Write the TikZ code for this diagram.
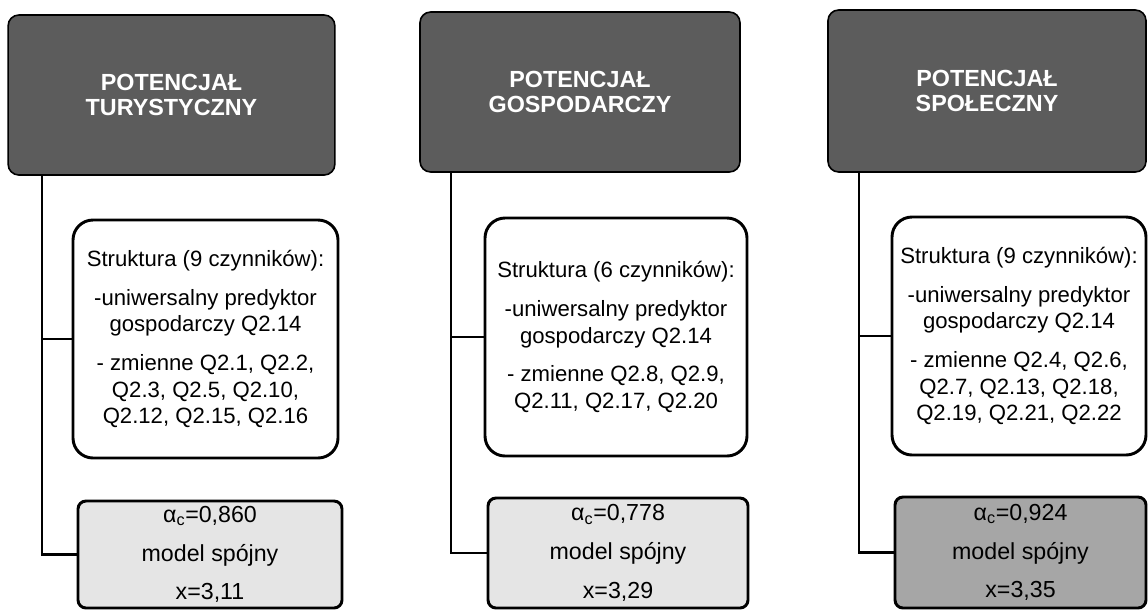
\documentclass[tikz,border=0pt]{standalone}
\usepackage{fontspec}
\setmainfont{Liberation Sans}
\usetikzlibrary{calc}
\tikzset{
  headbox/.style={draw=black, line width=1.2pt, fill=black!64, rounded corners=8pt,
    text=white, font=\bfseries\fontsize{17.5}{19}\selectfont, align=center, inner sep=0pt},
  midbox/.style={draw=black, line width=2.2pt, fill=white, rounded corners=15pt,
    font=\fontsize{16.6}{20}\selectfont, align=center, inner sep=0pt},
  botbox/.style={draw=black, line width=2.2pt, rounded corners=6pt,
    font=\fontsize{17.4}{29}\selectfont, align=center, inner sep=0pt},
  link/.style={draw=black, line width=1.6pt},
}
\begin{document}
\begin{tikzpicture}[x=0.75pt,y=-0.75pt]
\useasboundingbox (0,0) rectangle (1148,611);
% column 1
\node[headbox, minimum width=245pt, minimum height=120pt] (top1) at (171.5,95) {POTENCJAŁ\\TURYSTYCZNY};
\node[midbox, minimum width=198.75pt, minimum height=178.5pt] (mid1) at (205.5,339)
  {Struktura (9 czynników):\\[9pt]-uniwersalny predyktor\\gospodarczy Q2.14\\[9pt]- zmienne Q2.1, Q2.2,\\Q2.3, Q2.5, Q2.10,\\Q2.12, Q2.15, Q2.16};
\node[botbox, fill=black!10, minimum width=198pt, minimum height=80.25pt] (bot1) at (210,554.5)
  {α\textsubscript{c}=0,860\\model spójny\\x=3,11};
\coordinate (v1) at ($(top1.south west)+(35,0)$);
\draw[link] (v1) |- (mid1.west);
\draw[link] (v1) |- (bot1.west);
% column 2
\node[headbox, minimum width=240pt, minimum height=120pt] (top2) at (580,92) {POTENCJAŁ\\GOSPODARCZY};
\node[midbox, minimum width=196.5pt, minimum height=178.5pt] (mid2) at (616,337)
  {Struktura (6 czynników):\\[9pt]-uniwersalny predyktor\\gospodarczy Q2.14\\[9pt]- zmienne Q2.8, Q2.9,\\Q2.11, Q2.17, Q2.20};
\node[botbox, fill=black!10, minimum width=195pt, minimum height=82.5pt] (bot2) at (618,553)
  {α\textsubscript{c}=0,778\\model spójny\\x=3,29};
\coordinate (v2) at ($(top2.south west)+(32,0)$);
\draw[link] (v2) |- (mid2.west);
\draw[link] (v2) |- (bot2.west);
% column 3
\node[headbox, minimum width=238.5pt, minimum height=121.5pt] (top3) at (987,91) {POTENCJAŁ\\SPOŁECZNY};
\node[midbox, minimum width=190.5pt, minimum height=178.5pt] (mid3) at (1019,336)
  {Struktura (9 czynników):\\[9pt]-uniwersalny predyktor\\gospodarczy Q2.14\\[9pt]- zmienne Q2.4, Q2.6,\\Q2.7, Q2.13, Q2.18,\\Q2.19, Q2.21, Q2.22};
\node[botbox, fill=black!35, minimum width=188.25pt, minimum height=83.25pt] (bot3) at (1020.5,552.5)
  {α\textsubscript{c}=0,924\\model spójny\\x=3,35};
\coordinate (v3) at ($(top3.south west)+(32,0)$);
\draw[link] (v3) |- (mid3.west);
\draw[link] (v3) |- (bot3.west);
\end{tikzpicture}
\end{document}
